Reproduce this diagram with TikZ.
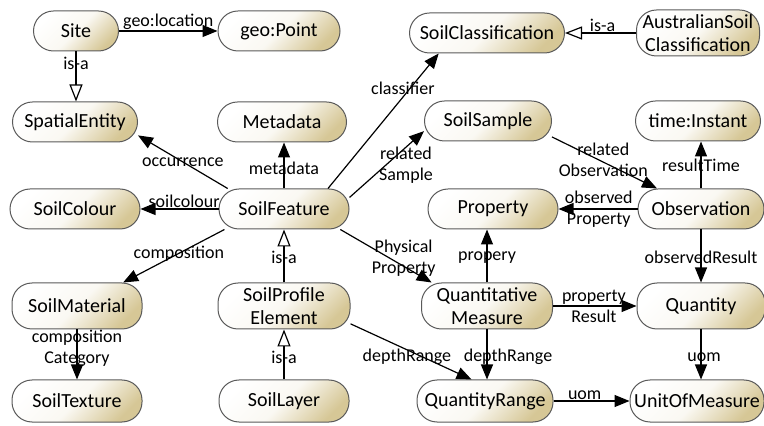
\documentclass[tikz,border=0pt]{standalone}
\usepackage{fontspec}
\setmainfont{Carlito}
\usetikzlibrary{arrows.meta}
\definecolor{nodetan}{RGB}{214,199,150}
\definecolor{nodeedge}{RGB}{90,90,90}

\begin{document}
\begin{tikzpicture}[x=0.5pt,y=-0.5pt,
		cls/.style={rectangle, rounded corners=10pt, draw=nodeedge, line width=0.5pt,
			top color=white, bottom color=nodetan, middle color=white!88!nodetan, shading angle=45,
			minimum height=20pt, inner xsep=2pt, inner ysep=1pt, align=center,
			font=\fontsize{10}{11.5}\selectfont},
		lbl/.style={inner sep=0.5pt, align=center, font=\fontsize{9}{10.5}\selectfont},
		rel/.style={draw, line width=0.6pt, -{Triangle[length=7.5pt,width=6pt]}},
		isa/.style={draw, line width=0.6pt, -{Triangle[open,length=8.5pt,width=6.5pt,fill=white]}}]
			\useasboundingbox (0,0) rectangle (764,426);
			% classes
			\node[cls, minimum width=42.5pt] (site) at (76,31) {Site};
			\node[cls, minimum width=61pt] (point) at (279,31) {geo:Point};
			\node[cls, minimum width=77.5pt] (scls) at (487,33) {SoilClassification};
			\node[cls, minimum width=61.5pt, minimum height=23pt] (ausc) at (698,33) {AustralianSoil\\Classification};
			\node[cls, minimum width=62.5pt] (spat) at (75,122) {SpatialEntity};
			\node[cls, minimum width=64.5pt] (meta) at (282,122) {Metadata};
			\node[cls, minimum width=63.5pt] (smpl) at (488,121) {SoilSample};
			\node[cls, minimum width=62.5pt] (inst) at (698,121) {time:Instant};
			\node[cls, minimum width=65pt] (colr) at (75,209) {SoilColour};
			\node[cls, minimum width=65pt] (feat) at (284,209) {SoilFeature};
			\node[cls, minimum width=65pt] (prop) at (493,209) {Property};
			\node[cls, minimum width=63pt] (obsv) at (701,209) {Observation};
			\node[cls, minimum width=65pt, minimum height=23pt] (matl) at (77,306) {SoilMaterial};
			\node[cls, minimum width=66pt, minimum height=23pt] (spel) at (284,306) {SoilProfile\\Element};
			\node[cls, minimum width=65.5pt, minimum height=23pt] (qmea) at (487,306) {Quantitative\\Measure};
			\node[cls, minimum width=64pt, minimum height=23pt] (qnty) at (701,306) {Quantity};
			\node[cls, minimum width=65pt, minimum height=21pt] (text) at (77,401) {SoilTexture};
			\node[cls, minimum width=65pt, minimum height=21pt] (layr) at (284,401) {SoilLayer};
			\node[cls, minimum width=68pt, minimum height=21pt] (qrng) at (485,401) {QuantityRange};
			\node[cls, minimum width=67pt, minimum height=21pt] (unit) at (697,401) {UnitOfMeasure};
			% relations
			\draw[rel] (site.east) -- node[lbl,above,pos=.5] {geo:location} (point.west);
			\draw[isa] (site.south) -- node[lbl,pos=.24] {is-a} (site.south |- spat.north);
			\draw[isa] (ausc.west) -- node[lbl,above,pos=.47] {is-a} (scls.east);
			\draw[rel] (feat.160) -- node[lbl,pos=.5] {occurrence} (spat.-12);
			\draw[rel] (feat.north) -- node[lbl,pos=.44] {metadata} (feat.north |- meta.south);
			\draw[rel] (feat.west) -- node[lbl,above,pos=.44] {soilcolour} (colr.east);
			\draw[rel] (feat.199) -- node[lbl,pos=.45] {composition} (matl.27);
			\draw[isa] (spel.north) -- node[lbl,pos=.47] {is-a} (feat.south);
			\draw[rel] (feat.25) -- node[lbl,pos=.74,xshift=-3.5pt] {classifier} (scls.203);
			\draw[rel] (feat.10) -- node[lbl,pos=.49,xshift=10pt] {related\\Sample} (smpl.189);
			\draw[rel] (feat.-20) -- node[lbl,pos=.54,xshift=7pt] {Physical\\Property} (qmea.157);
			\draw[rel] (smpl.-14) -- node[lbl,pos=.45,xshift=2pt] {related\\Observation} (obsv.155);
			\draw[rel] (obsv.north) -- node[lbl,pos=.49] {resultTime} (obsv.north |- inst.south);
			\draw[rel] (obsv.west) -- node[lbl,pos=.49] {observed\\Property} (prop.east);
			\draw[rel] (obsv.south) -- node[lbl,pos=.53] {observedResult} (qnty.north);
			\draw[rel] (qmea.north) -- node[lbl,pos=.47] {propery} (qmea.north |- prop.south);
			\draw[rel] (qmea.east) -- node[lbl,pos=.49] {property\\Result} (qnty.west);
			\draw[rel] (qmea.south) -- node[lbl,pos=.55,xshift=10.5pt] {depthRange} (qmea.south |- qrng.north);
			\draw[rel] (spel.-15) -- node[lbl,pos=.59,xshift=-7.5pt] {depthRange} (qrng.122);
			\draw[rel] (qrng.east) -- node[lbl,above,pos=.41] {uom} (unit.west);
			\draw[rel] (qnty.south) -- node[lbl,pos=.55,xshift=1.5pt] {uom} (qnty.south |- unit.north);
			\draw[rel] (matl.south) -- node[lbl,pos=.38] {composition\\Category} (matl.south |- text.north);
			\draw[isa] (layr.north) -- node[lbl,pos=.45] {is-a} (spel.south);
			%\draw[help lines] (0,0) grid[step=50] (764,426);
		\end{tikzpicture}
\end{document}
